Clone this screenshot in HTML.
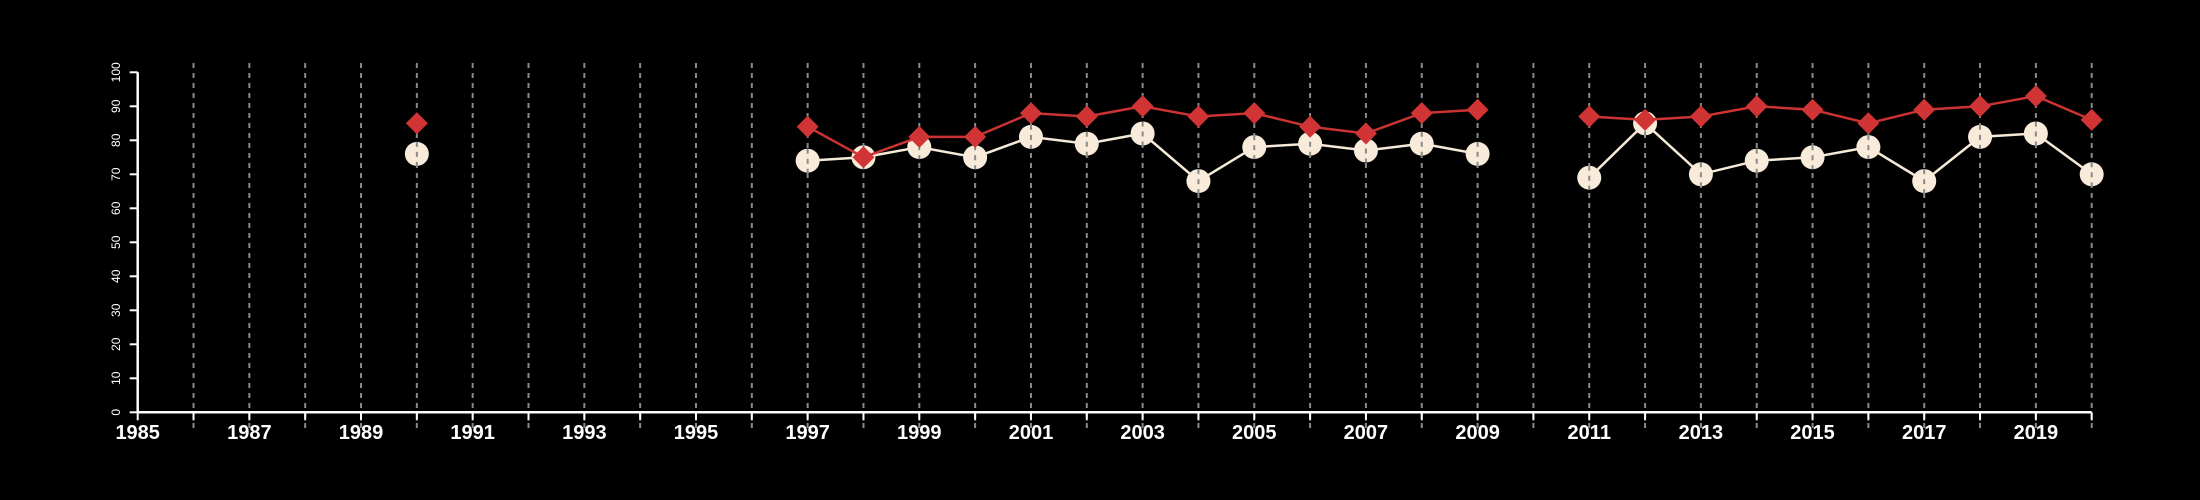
<!DOCTYPE html>
<html><head><meta charset="utf-8"><style>
html,body{margin:0;padding:0;background:#000;}
svg{display:block;}
text{font-family:"Liberation Sans",sans-serif;fill:#fff;}
</style></head><body>
<svg id="chart" width="2200" height="500" viewBox="0 0 2200 500" xmlns="http://www.w3.org/2000/svg">
<rect width="2200" height="500" fill="#000"/>
<g id="grid"></g><g id="axes"></g><g id="series"></g>
</svg>
<script>
const years = [1990,1997,1998,1999,2000,2001,2002,2003,2004,2005,2006,2007,2008,2009,2011,2012,2013,2014,2015,2016,2017,2018,2019,2020];
const redValues = [85,84,75,81,81,88,87,90,87,88,84,82,88,89,87,86,87,90,89,85,89,90,93,86];
const whiteValues = [76,74,75,78,75,81,79,82,68,78,79,77,79,76,69,85,70,74,75,78,68,81,82,70];
const yTicks = [0,10,20,30,40,50,60,70,80,90,100];
const xMin = 1985, xMax = 2020;

const NS = "http://www.w3.org/2000/svg";
const X0 = 137.7, X1 = 2091.7, Y0 = 412.3, Y1 = 72.3;
function xs(v){ return X0 + (v - xMin) / (xMax - xMin) * (X1 - X0); }
function ys(v){ return Y0 + v / 100 * (Y1 - Y0); }
function mk(tag, attrs, parent){
  const e = document.createElementNS(NS, tag);
  for (const k in attrs) e.setAttribute(k, attrs[k]);
  parent.appendChild(e);
  return e;
}
const grid = document.getElementById('grid');
const axes = document.getElementById('axes');
const series = document.getElementById('series');

// axes
const xAxis = mk('line', {x1: X0, x2: X1, y1: Y0, y2: Y0, stroke: '#fff', 'stroke-width': 2.5}, axes);


const yAxis = mk('line', {x1: X0, x2: X0, y1: Y0, y2: Y1, stroke: '#fff', 'stroke-width': 2.5}, axes);



for (const t of yTicks) {
  const y = ys(t);
  const tk = mk('line', {x1: X0 - 8, x2: X0, y1: y, y2: y, stroke: '#fff', 'stroke-width': 2}, axes);
  
  
  const lb = mk('text', {x: 0, y: 0, transform: `translate(120,${y}) rotate(-90)`, 'text-anchor': 'middle', 'font-size': 12}, axes);
  lb.textContent = t;
  
  
}
for (let yr = xMin; yr <= xMax; yr++) {
  const x = xs(yr);
  if (yr > xMin) {
    const g = mk('line', {x1: x, x2: x, y1: 63, y2: 428, stroke: '#8a8a8a', 'stroke-width': 2, 'stroke-dasharray': '5 5'}, grid);
    
    
  }
  const tk = mk('line', {x1: x, x2: x, y1: Y0, y2: Y0 + 8, stroke: '#fff', 'stroke-width': 2}, axes);
  
  
  if ((yr - xMin) % 2 === 0) {
    const lb = mk('text', {x: x, y: 439, 'text-anchor': 'middle', 'font-size': 20, 'font-weight': 'bold'}, axes);
    lb.textContent = yr;
    
    
  }
}

function segments(vals){
  const segs = []; let cur = [];
  for (let i = 0; i < years.length; i++) {
    if (i > 0 && years[i] - years[i-1] > 1) { segs.push(cur); cur = []; }
    cur.push([xs(years[i]), ys(vals[i])]);
  }
  segs.push(cur);
  return segs;
}
function drawLine(vals, color, name){
  for (const s of segments(vals)) {
    if (s.length < 2) continue;
    const p = mk('polyline', {points: s.map(q => q.join(',')).join(' '), fill: 'none', stroke: color, 'stroke-width': 2.5}, series);
    
    
  }
}
drawLine(whiteValues, '#f5ead8', 'white-series-line');
for (let i = 0; i < years.length; i++) {
  const c = mk('circle', {cx: xs(years[i]), cy: ys(whiteValues[i]), r: 12, fill: '#f8ebda'}, series);
  
  
}
// gridline overlay on circles
for (let i = 0; i < years.length; i++) {
  const x = xs(years[i]), y = ys(whiteValues[i]);
  const g = mk('line', {x1: x, x2: x, y1: y - 12, y2: y + 12, stroke: '#8a8a8a', 'stroke-width': 2, 'stroke-dasharray': '5 5'}, series);
  
  
}
drawLine(redValues, '#cc3333', 'red-series-line');
for (let i = 0; i < years.length; i++) {
  const x = xs(years[i]), y = ys(redValues[i]), d = 11;
  const p = mk('polygon', {points: `${x},${y-d} ${x+d},${y} ${x},${y+d} ${x-d},${y}`, fill: '#d13434'}, series);
  
  
}
</script>
</body></html>
